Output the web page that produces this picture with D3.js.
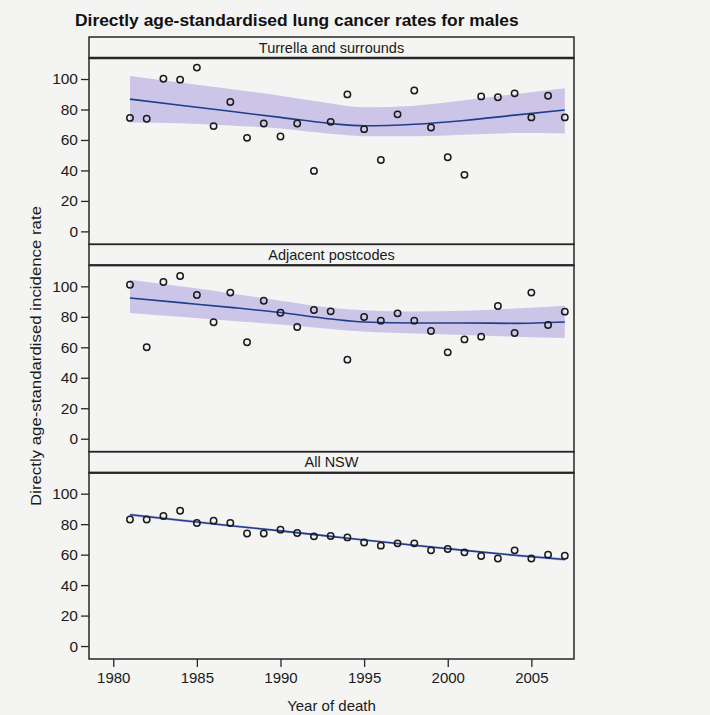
<!DOCTYPE html>
<html>
<head>
    <meta charset="utf-8" />
    <title>Lung cancer rates for males</title>
    <script src="https://d3js.org/d3.v7.min.js"></script>
    <style>
        body { margin: 0; background: #f4f4f3; }
        svg { display: block; font-family: "Liberation Sans", Arial, sans-serif; }
    </style>
</head>
<body>
    <svg id="chart" width="710" height="715"></svg>

<script>
    // Observed rates, one value per year of death
    const years = [1981, 1982, 1983, 1984, 1985, 1986, 1987, 1988, 1989, 1990, 1991, 1992, 1993, 1994,
                   1995, 1996, 1997, 1998, 1999, 2000, 2001, 2002, 2003, 2004, 2005, 2006, 2007];

    const turrellaRates = [74.5, 73.9, 100.2, 99.6, 107.5, 69.1, 84.9, 61.4, 70.8, 62.3, 70.8, 39.7, 71.9, 89.9,
                           67.1, 46.9, 76.8, 92.5, 68.2, 48.7, 37.1, 88.6, 88.0, 90.6, 74.8, 89.0, 74.8];
    const adjacentRates = [101.1, 60.0, 102.9, 106.8, 94.3, 76.4, 95.9, 63.3, 90.6, 82.7, 73.3, 84.5, 83.6, 51.9,
                           79.9, 77.5, 82.3, 77.5, 70.7, 56.7, 65.2, 67.0, 87.1, 69.4, 95.9, 74.6, 83.4];
    const nswRates = [83.1, 83.1, 85.4, 88.8, 80.8, 82.3, 80.8, 73.9, 73.9, 76.4, 74.2, 72.0, 72.2, 71.3,
                      68.0, 65.9, 67.4, 67.4, 62.8, 63.7, 61.5, 59.1, 57.5, 62.8, 57.5, 60.0, 59.3];

    // Smoothed trend and its band, read at a few years
    const fitYears = [1981, 1984, 1987, 1990, 1993, 1995, 1998, 2001, 2004, 2007];

    const turrellaFit = [86.8, 82.8, 78.8, 74.8, 70.8, 69.3, 70.3, 72.8, 76.3, 79.7];
    const turrellaLow = [71.5, 71.0, 69.5, 67.5, 64.0, 62.5, 62.5, 63.5, 64.5, 64.3];
    const turrellaHigh = [102.0, 97.8, 93.5, 89.0, 84.0, 81.5, 82.5, 86.0, 90.0, 94.0];

    const adjacentFit = [92.4, 89.3, 86.2, 82.8, 78.6, 76.6, 76.0, 76.0, 75.7, 76.6];
    const adjacentLow = [82.5, 80.0, 77.5, 75.0, 72.0, 70.3, 69.0, 68.0, 67.0, 66.1];
    const adjacentHigh = [104.4, 100.0, 95.5, 90.5, 86.0, 84.3, 83.5, 84.0, 85.5, 87.3];

    const nswFit = [86.2, 82.6, 79.0, 75.6, 72.0, 69.6, 66.2, 62.8, 59.6, 56.8];
    const nswLow = [85.2, 81.7, 78.2, 74.8, 71.2, 68.8, 65.4, 62.0, 58.7, 55.8];
    const nswHigh = [87.2, 83.5, 79.8, 76.4, 72.8, 70.4, 67.0, 63.6, 60.5, 57.8];

    const panelNames = ["Turrella and surrounds", "Adjacent postcodes", "All NSW"];
    const yTicks = [0, 20, 40, 60, 80, 100];
    const xTicks = [1980, 1985, 1990, 1995, 2000, 2005];

    const panels = [
        { name: panelNames[0], rates: turrellaRates, fit: turrellaFit, low: turrellaLow, high: turrellaHigh },
        { name: panelNames[1], rates: adjacentRates, fit: adjacentFit, low: adjacentLow, high: adjacentHigh },
        { name: panelNames[2], rates: nswRates, fit: nswFit, low: nswLow, high: nswHigh }
    ];

    // Layout
    const plotLeft = 89, plotRight = 574;
    const plotTop = 37, plotBottom = 659;
    const stripH = 21;
    const panelH = (plotBottom - plotTop) / panels.length;
    const ink = "#262626";

    const svg = d3.select("#chart");

    const xScale = d3.scaleLinear()
        .domain([1978.55, 2007.55])
        .range([plotLeft, plotRight]);

    panels.forEach(function(p, i) {
        const y0 = plotTop + i * panelH;
        const innerTop = y0 + stripH;
        const innerBottom = y0 + panelH;

        const yScale = d3.scaleLinear()
            .domain([-8.5, 113.8])
            .range([innerBottom, innerTop]);

        const bandData = fitYears.map((yr, j) => ({ year: yr, fit: p.fit[j], low: p.low[j], high: p.high[j] }));

        // confidence band
        const area = d3.area()
            .x(d => xScale(d.year))
            .y0(d => yScale(d.low))
            .y1(d => yScale(d.high))
            .curve(d3.curveMonotoneX);

        svg.append("path")
            .datum(bandData)
            .attr("fill", "#ccc5e8")
            .attr("d", area);

        // trend line
        const line = d3.line()
            .x(d => xScale(d.year))
            .y(d => yScale(d.fit))
            .curve(d3.curveMonotoneX);

        svg.append("path")
            .datum(bandData)
            .attr("fill", "none")
            .attr("stroke", "#1f3d8a")
            .attr("stroke-width", 1.6)
            .attr("d", line);

        // observed points
        svg.append("g")
            .selectAll("circle")
            .data(years)
            .enter().append("circle")
            .attr("cx", d => xScale(d))
            .attr("cy", (d, j) => yScale(p.rates[j]))
            .attr("r", 3.2)
            .attr("fill", "none")
            .attr("stroke", "#1a1a1a")
            .attr("stroke-width", 1.5);

        // strip
        svg.append("rect")
            .attr("x", plotLeft)
            .attr("y", y0)
            .attr("width", plotRight - plotLeft)
            .attr("height", stripH)
            .attr("fill", "none")
            .attr("stroke", ink)
            .attr("stroke-width", 1.5);

        svg.append("line")
            .attr("x1", plotLeft).attr("x2", plotRight)
            .attr("y1", innerTop).attr("y2", innerTop)
            .attr("stroke", ink)
            .attr("stroke-width", i == 0 ? 2.5 : 2);

        svg.append("text")
            .attr("x", (plotLeft + plotRight) / 2)
            .attr("y", y0 + 15.5)
            .attr("text-anchor", "middle")
            .attr("font-size", 14.5)
            .attr("fill", "#1a1a1a")
            .text(p.name);

        // panel frame
        svg.append("rect")
            .attr("x", plotLeft)
            .attr("y", innerTop)
            .attr("width", plotRight - plotLeft)
            .attr("height", innerBottom - innerTop)
            .attr("fill", "none")
            .attr("stroke", ink)
            .attr("stroke-width", 1.5);

        // y axis
        const yAxis = svg.append("g")
            .attr("transform", `translate(${plotLeft}, 0)`)
            .call(d3.axisLeft(yScale).tickValues(yTicks).tickSize(8).tickPadding(3));
        yAxis.select(".domain").remove();
        yAxis.selectAll("line").attr("stroke", ink).attr("stroke-width", 1.3);
        yAxis.selectAll("text")
            .attr("font-size", 15.5)
            .attr("font-family", "Liberation Sans, Arial, sans-serif")
            .attr("fill", "#1a1a1a");

        // x axis only under the last panel
        if (i == panels.length - 1) {
            const xAxis = svg.append("g")
                .attr("transform", `translate(0, ${innerBottom})`)
                .call(d3.axisBottom(xScale).tickValues(xTicks).tickSize(8).tickPadding(5).tickFormat(d3.format("d")));
            xAxis.select(".domain").remove();
            xAxis.selectAll("line").attr("stroke", ink).attr("stroke-width", 1.3);
            xAxis.selectAll("text")
                .attr("font-size", 15)
                .attr("font-family", "Liberation Sans, Arial, sans-serif")
                .attr("fill", "#1a1a1a");
        }
    });

    // Title
    svg.append("text")
        .attr("x", 75)
        .attr("y", 26)
        .attr("font-size", 17.4)
        .attr("font-weight", "bold")
        .attr("fill", "#111")
        .text("Directly age-standardised lung cancer rates for males");

    // Axis labels
    svg.append("text")
        .attr("x", (plotLeft + plotRight) / 2)
        .attr("y", 711)
        .attr("text-anchor", "middle")
        .attr("font-size", 15)
        .attr("fill", "#1a1a1a")
        .text("Year of death");

    svg.append("text")
        .attr("transform", "translate(41, 356) rotate(-90)")
        .attr("text-anchor", "middle")
        .attr("font-size", 15)
        .attr("textLength", 300)
        .attr("lengthAdjust", "spacingAndGlyphs")
        .attr("fill", "#1a1a1a")
        .text("Directly age-standardised incidence rate");
</script>
</body>
</html>
